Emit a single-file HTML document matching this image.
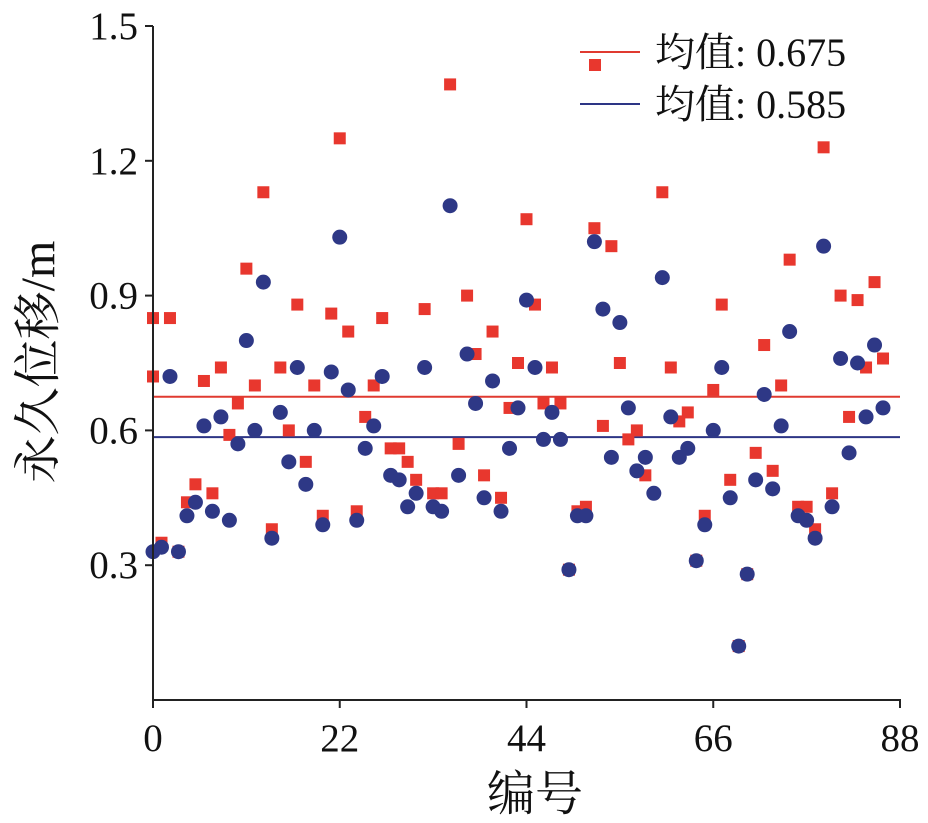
<!DOCTYPE html>
<html><head><meta charset="utf-8">
<style>
html,body{margin:0;padding:0;background:#fff;}
svg text{font-family:"Liberation Serif","Noto Serif CJK SC",serif;fill:#111;}
</style></head>
<body>
<svg id="chart" width="928" height="818" viewBox="0 0 928 818" xmlns="http://www.w3.org/2000/svg">
<g id="marks"></g>
<g id="axes"></g>
</svg>
<script>
const redX=[0,0,1,2,3,4,5,6,7,8,9,10,11,12,13,14,15,16,17,18,19,20,21,22,23,24,25,26,27,28,29,30,31,32,33,34,35,36,37,38,39,40,41,42,43,44,45,46,47,48,49,50,51,52,53,54,55,56,57,58,60,61,62,63,64,65,66,67,68,69,70,71,72,73,74,75,76,77,78,79,80,81,82,83,84,85,86];
const redY=[0.85,0.72,0.35,0.85,0.33,0.44,0.48,0.71,0.46,0.74,0.59,0.66,0.96,0.70,1.13,0.38,0.74,0.60,0.88,0.53,0.70,0.41,0.86,1.25,0.82,0.42,0.63,0.70,0.85,0.56,0.56,0.53,0.49,0.87,0.46,0.46,1.37,0.57,0.90,0.77,0.50,0.82,0.45,0.65,0.75,1.07,0.88,0.66,0.74,0.66,0.29,0.42,0.43,1.05,0.61,1.01,0.75,0.58,0.60,0.50,1.13,0.74,0.62,0.64,0.31,0.41,0.69,0.88,0.49,0.12,0.28,0.55,0.79,0.51,0.70,0.98,0.43,0.43,0.38,1.23,0.46,0.90,0.63,0.89,0.74,0.93,0.76];
const blueY=[0.33,0.34,0.72,0.33,0.41,0.44,0.61,0.42,0.63,0.40,0.57,0.80,0.60,0.93,0.36,0.64,0.53,0.74,0.48,0.60,0.39,0.73,1.03,0.69,0.40,0.56,0.61,0.72,0.50,0.49,0.43,0.46,0.74,0.43,0.42,1.10,0.50,0.77,0.66,0.45,0.71,0.42,0.56,0.65,0.89,0.74,0.58,0.64,0.58,0.29,0.41,0.41,1.02,0.87,0.54,0.84,0.65,0.51,0.54,0.46,0.94,0.63,0.54,0.56,0.31,0.39,0.60,0.74,0.45,0.12,0.28,0.49,0.68,0.47,0.61,0.82,0.41,0.40,0.36,1.01,0.43,0.76,0.55,0.75,0.63,0.79,0.65];
const meanRed=0.675, meanBlue=0.585;
const xTicks=[0,22,44,66,88];
const yTicks=[0.3,0.6,0.9,1.2,1.5];
const legendLabels=["均值: 0.675","均值: 0.585"];

const NS="http://www.w3.org/2000/svg";
const X0=153,X1=900,Y0=700,Y1=26;
const sx=v=>X0+(v/88)*(X1-X0);
const sy=v=>Y0-(v/1.5)*(Y0-Y1);
const marks=document.getElementById('marks'), axes=document.getElementById('axes');
function mk(tag,attrs,parent){const e=document.createElementNS(NS,tag);for(const k in attrs)e.setAttribute(k,attrs[k]);parent.appendChild(e);return e;}

let l=mk('line',{x1:X0,x2:X1,y1:sy(meanRed),y2:sy(meanRed),stroke:'#e03a30','stroke-width':2},marks);


l=mk('line',{x1:X0,x2:X1,y1:sy(meanBlue),y2:sy(meanBlue),stroke:'#2d3585','stroke-width':2},marks);



redY.forEach((v,i)=>{
  const r=mk('rect',{x:sx(redX[i])-6,y:sy(v)-6,width:12,height:12,fill:'#e8372e'},marks);
  
  
});
blueY.forEach((v,i)=>{
  const c=mk('circle',{cx:sx(i),cy:sy(v),r:7.5,fill:'#2e3886'},marks);
  
  
});

let a=mk('line',{x1:X0,x2:X0,y1:Y1,y2:Y0+1,stroke:'#222','stroke-width':2},axes);


a=mk('line',{x1:X0-1,x2:X1+1,y1:Y0,y2:Y0,stroke:'#222','stroke-width':2},axes);


yTicks.forEach(t=>{
  const y=sy(t);
  let tk=mk('line',{x1:X0-8,x2:X0,y1:y,y2:y,stroke:'#222','stroke-width':2},axes);
  
  
  let tx=mk('text',{x:X0-15,y:y+13,'text-anchor':'end','font-size':39},axes);
  tx.textContent=t.toFixed(1);
  
  
});
xTicks.forEach(t=>{
  const x=sx(t);
  let tk=mk('line',{x1:x,x2:x,y1:Y0,y2:Y0+8,stroke:'#222','stroke-width':2},axes);
  
  
  let tx=mk('text',{x:x,y:Y0+51,'text-anchor':'middle','font-size':39},axes);
  tx.textContent=t;
  
  
});
let t=mk('text',{x:535,y:810,'text-anchor':'middle','font-size':48},axes);
t.textContent='编号';


t=mk('text',{x:0,y:0,'text-anchor':'middle','font-size':48,transform:'translate(54,362) rotate(-90)'},axes);
t.textContent='永久位移/m';



const legColors=['#e03a30','#2d3585'], legY=[52,104];
legendLabels.forEach((s,i)=>{
  let ll=mk('line',{x1:580,x2:640,y1:legY[i],y2:legY[i],stroke:legColors[i],'stroke-width':2},axes);
  
  
  let lt=mk('text',{x:655,y:legY[i]+14,'font-size':40},axes);
  lt.textContent=s;
  
  
});
let lm=mk('rect',{x:589,y:59,width:12,height:12,fill:'#e8372e'},axes);


</script>
</body></html>
